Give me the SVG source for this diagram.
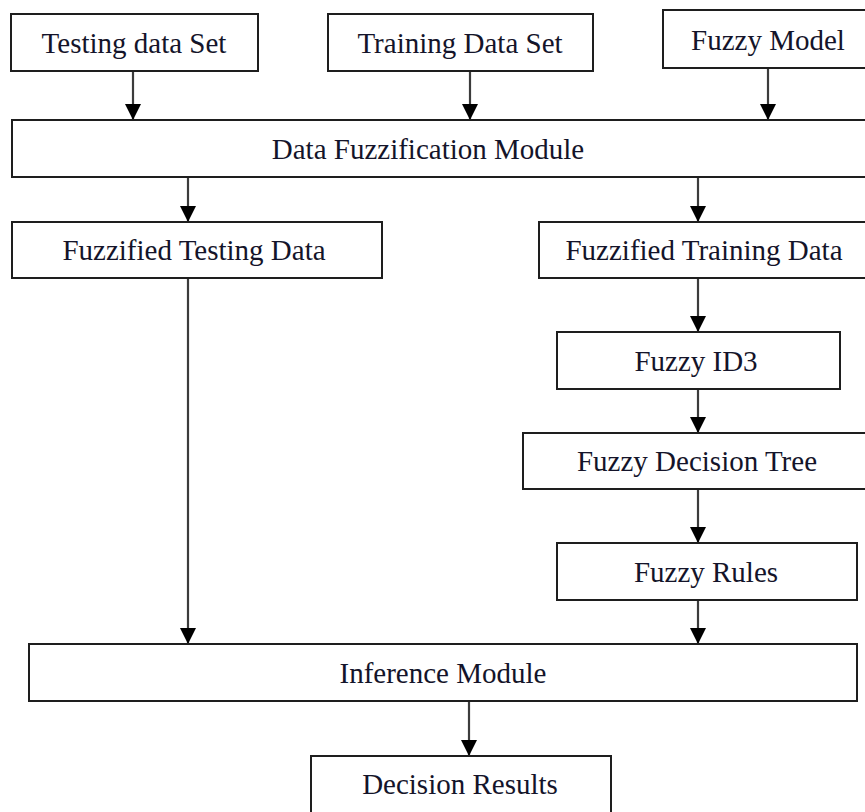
<svg xmlns="http://www.w3.org/2000/svg" width="865" height="812" viewBox="0 0 865 812">
  <style>
    .box { fill: #ffffff; stroke: #1e1e1e; stroke-width: 2; }
    .label { font-family: "Liberation Serif", "Times New Roman", serif; font-size: 29px; fill: #14142a; text-anchor: middle; }
    .link { stroke: #3c3c3c; stroke-width: 2.2; fill: none; marker-end: url(#head); }
  </style>
  <defs>
    <!-- solid triangular arrowhead, tip placed at the end of the line -->
    <marker id="head" viewBox="0 0 16 16" refX="16" refY="8" markerWidth="16" markerHeight="16" markerUnits="userSpaceOnUse" orient="auto">
      <path d="M0,0 L16,8 L0,16 Z" fill="#000"/>
    </marker>
  </defs>
  <rect width="865" height="812" fill="#ffffff"/>

  <g id="connectors">
    <line class="link" x1="133" y1="71" x2="133" y2="120"/>
    <line class="link" x1="470" y1="71" x2="470" y2="120"/>
    <line class="link" x1="768" y1="68" x2="768" y2="120"/>
    <line class="link" x1="188" y1="177" x2="188" y2="222"/>
    <line class="link" x1="698" y1="177" x2="698" y2="222"/>
    <line class="link" x1="698" y1="278" x2="698" y2="332"/>
    <line class="link" x1="698" y1="389" x2="698" y2="433"/>
    <line class="link" x1="698" y1="489" x2="698" y2="543"/>
    <line class="link" x1="188" y1="278" x2="188" y2="644"/>
    <line class="link" x1="698" y1="600" x2="698" y2="644"/>
    <line class="link" x1="469" y1="701" x2="469" y2="756"/>
  </g>

  <g id="testing-data-set">
    <rect class="box" x="11" y="14" width="247" height="57"/>
    <text class="label" x="134" y="53">Testing data Set</text>
  </g>
  <g id="training-data-set">
    <rect class="box" x="328" y="14" width="265" height="57"/>
    <text class="label" x="460" y="53">Training Data Set</text>
  </g>
  <g id="fuzzy-model">
    <rect class="box" x="663" y="10" width="220" height="58"/>
    <text class="label" x="768" y="50">Fuzzy Model</text>
  </g>
  <g id="data-fuzzification-module">
    <rect class="box" x="12" y="120" width="880" height="57"/>
    <text class="label" x="428" y="159">Data Fuzzification Module</text>
  </g>
  <g id="fuzzified-testing-data">
    <rect class="box" x="12" y="222" width="370" height="56"/>
    <text class="label" x="194" y="260">Fuzzified Testing Data</text>
  </g>
  <g id="fuzzified-training-data">
    <rect class="box" x="539" y="222" width="350" height="56"/>
    <text class="label" x="704" y="260">Fuzzified Training Data</text>
  </g>
  <g id="fuzzy-id3">
    <rect class="box" x="557" y="332" width="283" height="57"/>
    <text class="label" x="696" y="371">Fuzzy ID3</text>
  </g>
  <g id="fuzzy-decision-tree">
    <rect class="box" x="523" y="433" width="370" height="56"/>
    <text class="label" x="697" y="471">Fuzzy Decision Tree</text>
  </g>
  <g id="fuzzy-rules">
    <rect class="box" x="557" y="543" width="300" height="57"/>
    <text class="label" x="706" y="582">Fuzzy Rules</text>
  </g>
  <g id="inference-module">
    <rect class="box" x="29" y="644" width="828" height="57"/>
    <text class="label" x="443" y="683">Inference Module</text>
  </g>
  <g id="decision-results">
    <rect class="box" x="311" y="756" width="300" height="70"/>
    <text class="label" x="460" y="794">Decision Results</text>
  </g>
</svg>
